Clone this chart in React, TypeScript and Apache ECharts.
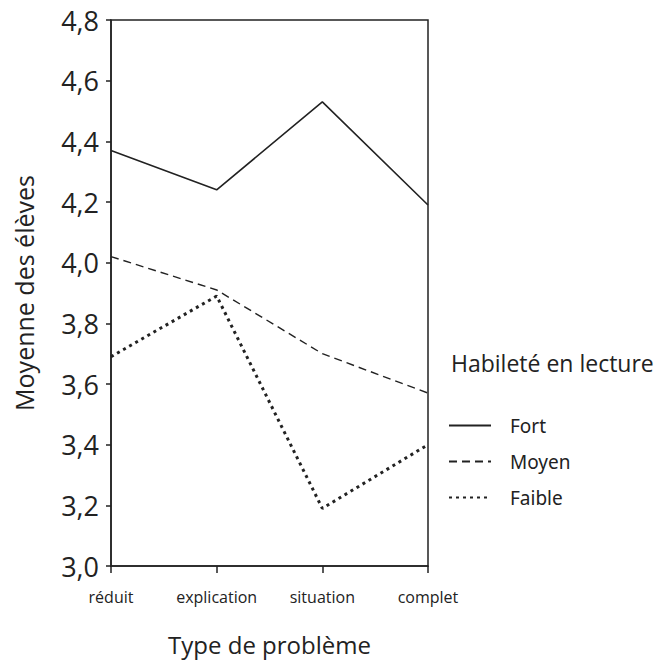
import React, { useEffect, useRef } from "react";
import * as echarts from "echarts";

const categories = ["réduit", "explication", "situation", "complet"];
const fortValues = [4.37, 4.24, 4.53, 4.19];
const moyenValues = [4.02, 3.91, 3.70, 3.57];
const faibleValues = [3.69, 3.89, 3.19, 3.40];
const seriesNames = ["Fort", "Moyen", "Faible"];

const INK = "#222";

export default function App() {
  const ref = useRef<HTMLDivElement>(null);
  useEffect(() => {
    if (!ref.current) return;
    const chart = echarts.init(ref.current, null, { renderer: "svg" });
    chart.setOption({
      animation: false,
      backgroundColor: "#fff",
      title: {
        text: "Habileté en lecture",
        left: 446,
        top: 346,
        textStyle: { fontFamily: "Open Sans", fontSize: 23, fontWeight: "normal", color: INK },
      },
      legend: {
        data: seriesNames,
        orient: "vertical",
        left: 443,
        top: 411,
        itemWidth: 42,
        itemHeight: 14,
        itemGap: 17,
        itemStyle: { opacity: 0 },
        textStyle: { fontFamily: "Noto Sans", fontSize: 19, color: INK, padding: [0, 0, 0, 14] },
      },
      grid: {
        left: 111,
        right: 236,
        top: 20,
        bottom: 97,
        show: true,
        borderColor: INK,
        borderWidth: 1.5,
      },
      xAxis: {
        type: "category",
        data: categories,
        boundaryGap: false,
        name: "Type de problème",
        nameLocation: "middle",
        nameGap: 66,
        nameTextStyle: { fontFamily: "Open Sans", fontSize: 24, color: INK },
        axisLine: { lineStyle: { color: INK, width: 1.5 } },
        axisTick: { show: true, length: 7, lineStyle: { color: INK, width: 1.5 } },
        axisLabel: { fontFamily: "Open Sans", fontSize: 16, color: INK, margin: 23 },
        splitLine: { show: false },
      },
      yAxis: {
        type: "value",
        min: 3.0,
        max: 4.8,
        interval: 0.2,
        name: "Moyenne des élèves",
        nameLocation: "middle",
        nameGap: 75,
        nameTextStyle: { fontFamily: "Open Sans", fontSize: 25, color: INK },
        axisLine: { show: true, lineStyle: { color: INK, width: 1.5 } },
        axisTick: { show: true, length: 5, lineStyle: { color: INK, width: 1.5 } },
        axisLabel: {
          fontFamily: "Open Sans",
          fontSize: 27,
          color: INK,
          margin: 12,
          formatter: (v: number) => v.toFixed(1).replace(".", ","),
        },
        splitLine: { show: false },
      },
      series: [
        {
          name: seriesNames[0],
          type: "line",
          data: fortValues,
          symbol: "none",
          itemStyle: { color: INK },
          lineStyle: { color: INK, width: 1.6, type: "solid" },
        },
        {
          name: seriesNames[1],
          type: "line",
          data: moyenValues,
          symbol: "none",
          itemStyle: { color: INK },
          lineStyle: { color: INK, width: 1.4, type: [8, 5] },
        },
        {
          name: seriesNames[2],
          type: "line",
          data: faibleValues,
          symbol: "none",
          itemStyle: { color: INK },
          lineStyle: { color: INK, width: 3, type: [3, 4] },
        },
      ],
    });
    return () => chart.dispose();
  }, []);
  return <div ref={ref} style={{ width: 664, height: 663, position: "absolute", left: 0, top: 0 }} />;
}
